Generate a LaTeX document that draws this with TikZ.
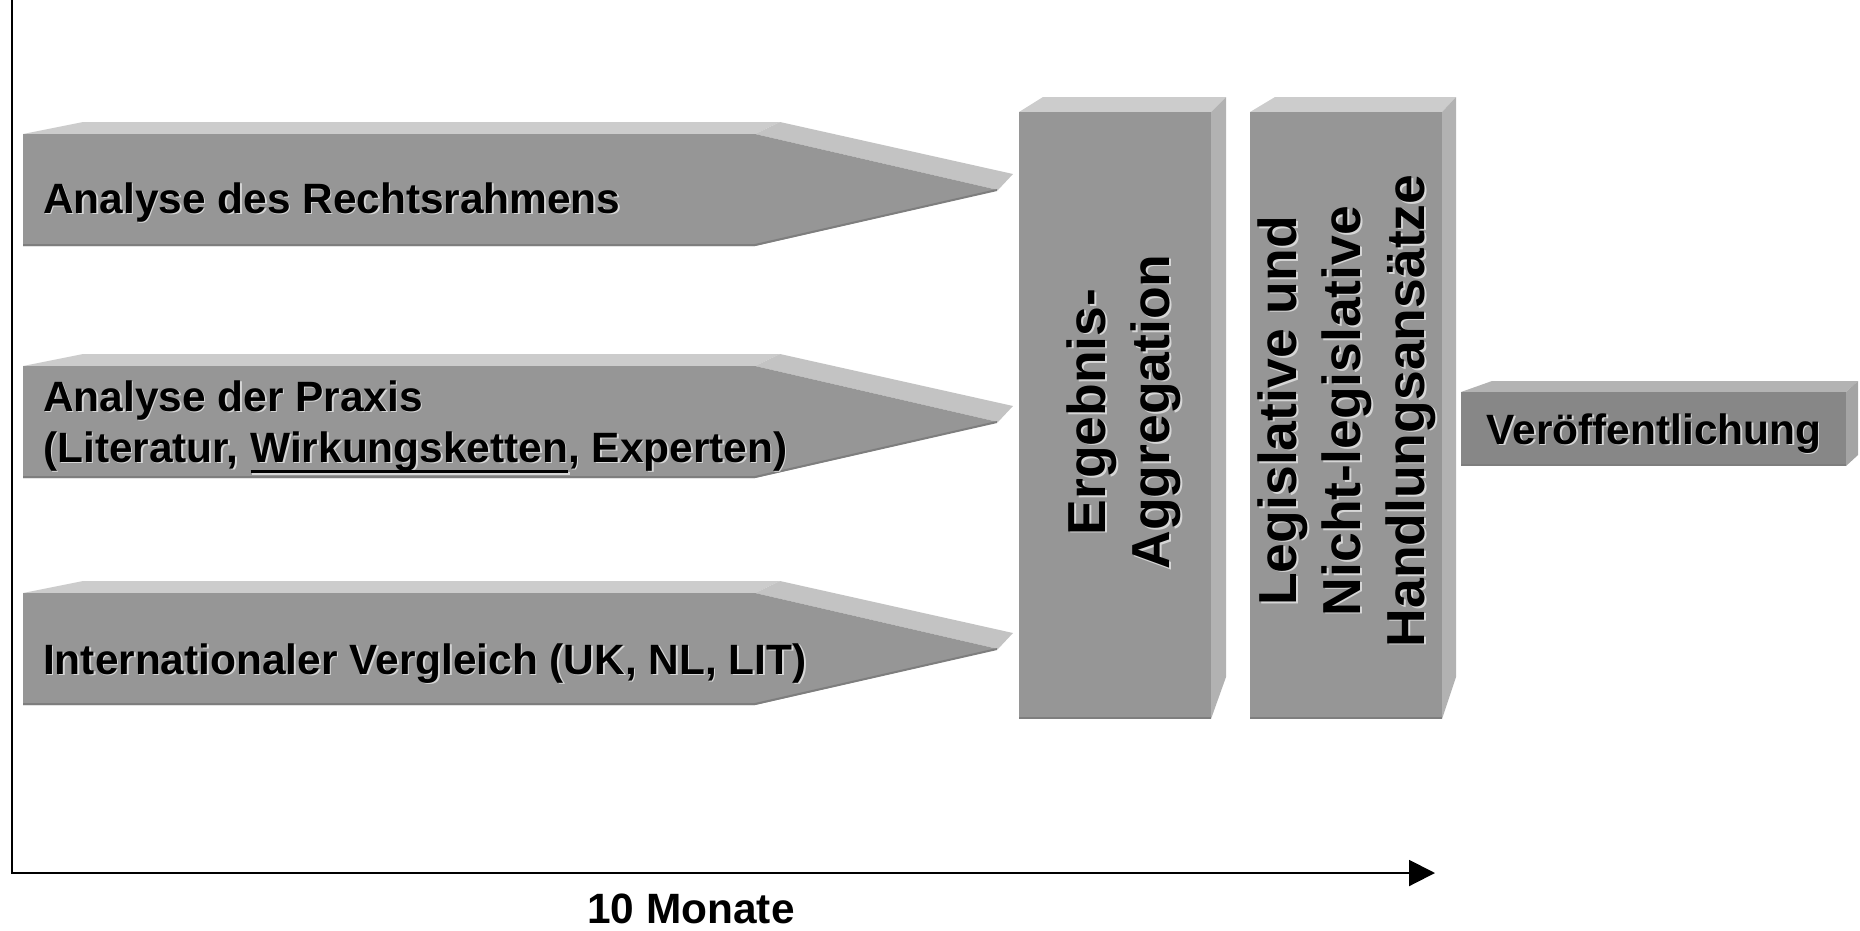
\documentclass[tikz,border=0pt]{standalone}
\usepackage{fontspec}
\setmainfont{Liberation Sans}
\usetikzlibrary{arrows.meta}

\definecolor{frontgrey}{HTML}{969696}
\definecolor{topgrey}{HTML}{CCCCCC}
\definecolor{bevelgrey}{HTML}{C3C3C3}
\definecolor{sidegrey}{HTML}{B2B2B2}
\definecolor{edgegrey}{HTML}{7E7E7E}
\definecolor{pubfront}{HTML}{878787}
\definecolor{pubtop}{HTML}{B3B3B3}
\definecolor{pubside}{HTML}{A4A4A4}
\definecolor{glow}{HTML}{D6D6D6}

% text with a light drop shadow (down-right on the page)
\newcommand\shadowed[1]{\rlap{\kern1.6pt\raisebox{-1.6pt}{\color{glow}#1}}#1}
% same for text turned by 90 degrees
\newcommand\shadowedrot[1]{\rlap{\kern-1.6pt\raisebox{-1.6pt}{\color{glow}#1}}#1}
% underline set below the descenders
\newsavebox\ulbox
\newcommand\ulword[1]{\sbox\ulbox{#1}\rlap{\rule[-11pt]{\wd\ulbox}{3pt}}\usebox\ulbox}

% a pointed bar in 3D; #1 = top edge of its front face
\newcommand\pencilbar[1]{%
  \fill[topgrey] (23,#1) -- (83,#1-12) -- (780,#1-12) -- (755,#1) -- cycle;
  \fill[bevelgrey] (755,#1) -- (780,#1-12) -- (1013,#1+40) -- (998,#1+56) -- cycle;
  \fill[frontgrey] (23,#1) -- (755,#1) -- (998,#1+56) -- (755,#1+112) -- (23,#1+112) -- cycle;
  \draw[edgegrey, line width=2pt] (23,#1+111) -- (755,#1+111) -- (997,#1+56);
}

\tikzset{
  bartext/.style={anchor=base west, inner sep=0pt,
    font=\fontsize{42.4}{51}\selectfont\bfseries},
  plaintext/.style={anchor=base, inner sep=0pt,
    font=\fontsize{42.4}{51}\selectfont\bfseries},
  coltext/.style={rotate=90, align=center, inner sep=0pt,
    font=\fontsize{53.5}{64}\selectfont\bfseries},
  axis/.style={line width=2pt, line join=miter, -{Triangle[length=26pt,width=26pt]}},
}

\begin{document}
\begin{tikzpicture}[x=1pt, y=-1pt]
\useasboundingbox (0,0) rectangle (1860,930);

% time axis
\coordinate (axtop) at (12,0);
\coordinate (origin) at (12,873);
\coordinate (axend) at (1435,873);
\draw[axis] (axtop) -- (origin) -- (axend);
\node[plaintext] (months) at (691,923) {10 Monate};

% three parallel work packages
\pencilbar{134}
\pencilbar{366}
\pencilbar{593}
\node[bartext] (law) at (43,213) {\shadowed{Analyse des Rechtsrahmens}};
\node[bartext] (practice) at (43,411) {\shadowed{Analyse der Praxis}};
\node[bartext] (practicesrc) at (43,462) {\shadowed{(Literatur, \ulword{Wirkungsketten}, Experten)}};
\node[bartext] (intl) at (43,674) {\shadowed{Internationaler Vergleich (UK, NL, LIT)}};

% aggregation block
\fill[topgrey] (1019,112) -- (1043,97) -- (1226,97) -- (1211,112) -- cycle;
\fill[sidegrey] (1211,112) -- (1226,97) -- (1226,677) -- (1211,719) -- cycle;
\fill[frontgrey] (1019,112) rectangle (1211,719);
\draw[edgegrey, line width=2pt] (1019,718) -- (1211,718);
\node[coltext] (aggr) at (1125,412) {\shadowedrot{Ergebnis-}\\\shadowedrot{Aggregation}};

% recommendations block
\fill[topgrey] (1250,112) -- (1275,97) -- (1456,97) -- (1442,112) -- cycle;
\fill[sidegrey] (1442,112) -- (1456,97) -- (1456,677) -- (1442,719) -- cycle;
\fill[frontgrey] (1250,112) rectangle (1442,719);
\draw[edgegrey, line width=2pt] (1250,718) -- (1442,718);
\node[coltext] (measures) at (1348,411) {\shadowedrot{Legislative und}\\\shadowedrot{Nicht-legislative}\\\shadowedrot{Handlungsansätze}};

% publication block
\fill[pubtop] (1461,392) -- (1492,381) -- (1858,381) -- (1846,392) -- cycle;
\fill[pubside] (1846,392) -- (1858,381) -- (1858,455) -- (1846,466) -- cycle;
\fill[pubfront] (1461,392) rectangle (1846,466);
\draw[edgegrey, line width=2pt] (1461,465) -- (1846,465);
\node[plaintext] (publ) at (1654,444) {\shadowed{Veröffentlichung}};
\end{tikzpicture}
\end{document}
